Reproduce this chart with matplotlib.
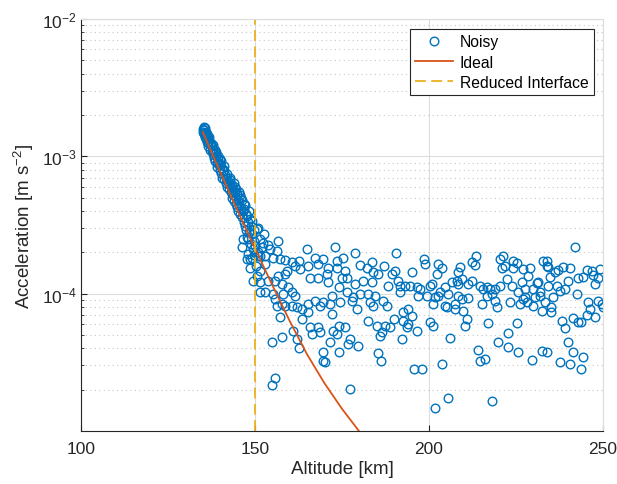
import numpy as np
import matplotlib
matplotlib.use('Agg')
import matplotlib.pyplot as plt
from matplotlib.ticker import LogLocator, NullFormatter, FixedLocator

plt.rcParams['font.family'] = ['Liberation Sans', 'DejaVu Sans']
plt.rcParams['mathtext.fontset'] = 'custom'
plt.rcParams['mathtext.rm'] = 'Liberation Sans'
plt.rcParams['mathtext.it'] = 'Liberation Sans'
plt.rcParams['mathtext.default'] = 'regular'

# ideal drag acceleration curve (altitude km, accel in 1e-5 m/s^2)
ideal_alt = [135, 137.5, 140, 142.5, 145, 147.5, 150, 155, 160, 165, 170, 175, 180, 185, 190]
ideal_acc = [150, 107, 76.9, 55.5, 40.2, 29.2, 21.4, 11.5, 6.3, 3.6, 2.22, 1.45, 0.99, 0.71, 0.52]

noisy_pts = [
    # dense part below the interface
    (135.0, 158), (135.1, 150), (135.2, 163), (135.3, 145), (135.4, 155), (135.5, 138),
    (135.6, 148), (135.7, 160), (135.8, 142), (135.9, 133), (136.0, 150), (136.1, 128),
    (136.2, 140), (136.3, 145), (136.4, 135), (136.5, 125), (136.6, 118), (136.8, 130),
    (136.9, 138), (137.0, 122), (137.1, 112), (137.3, 126), (137.5, 110), (137.6, 118),
    (137.8, 104), (137.8, 120), (138.0, 112), (138.2, 98), (138.4, 106), (138.5, 93),
    (138.6, 112), (138.7, 100), (138.9, 108), (139.0, 90), (139.2, 84), (139.4, 95),
    (139.5, 101), (139.6, 86), (139.8, 79), (139.9, 95), (140.0, 88), (140.2, 75),
    (140.3, 92), (140.4, 82), (140.6, 70), (140.8, 78), (141.0, 85), (141.1, 80),
    (141.2, 68), (141.4, 73), (141.6, 64), (141.8, 70), (141.9, 74), (142.0, 60),
    (142.2, 66), (142.4, 58), (142.6, 63), (142.7, 67), (142.8, 70), (143.0, 55),
    (143.2, 60), (143.4, 50), (143.5, 62), (143.6, 57), (143.8, 52), (143.9, 64),
    (144.0, 47), (144.2, 55), (144.3, 60), (144.4, 45), (144.5, 58), (144.6, 50),
    (144.8, 43), (144.9, 53), (145.0, 48), (145.2, 40), (145.3, 55), (145.4, 44),
    (145.6, 52), (145.8, 38), (145.9, 50), (146.0, 42), (146.2, 22), (146.3, 36),
    (146.4, 48), (146.5, 40), (146.6, 25), (146.7, 33), (146.8, 41), (146.9, 45),
    (147.1, 31), (147.2, 44), (147.3, 38), (147.5, 29), (147.6, 18), (147.7, 37),
    (147.8, 26), (148.0, 33), (148.1, 24.9), (148.1, 19.4), (148.2, 40), (148.3, 28),
    (148.5, 35), (148.6, 15.5), (148.6, 17.8), (148.8, 23), (148.9, 31), (149.0, 27),
    (149.1, 18.3), (149.2, 34), (149.3, 21), (149.5, 12.4), (149.6, 24), (149.7, 29),
    (149.8, 19),
    (150.5, 29.5), (151.5, 25), (152.4, 23.5), (151.4, 18.8), (150.5, 13.5), (150.8, 20),
    (150.2, 16),
    # 150 - 165 km
    (151.0, 29.9), (152.7, 27.4), (156.7, 24.0), (153.8, 22.6), (150.0, 22.3), (151.9, 21.7),
    (154.3, 21.1), (156.2, 20.3), (151.0, 18.8), (152.9, 18.8), (155.3, 18.3), (157.2, 17.8),
    (158.6, 17.5), (160.5, 17.1), (162.5, 17.3), (152.9, 16.4), (151.4, 14.7), (159.1, 14.7),
    (161.5, 15.9), (162.9, 15.1), (156.7, 13.5), (158.6, 13.9), (151.4, 12.1), (153.8, 12.4),
    (155.8, 12.4), (157.7, 11.7), (159.6, 11.1), (161.5, 9.64), (160.5, 10.2), (152.9, 10.2),
    (151.4, 10.2), (155.3, 9.92), (158.1, 9.92), (155.8, 9.12), (157.7, 8.39), (156.2, 8.15),
    (158.6, 8.15), (160.5, 8.15), (162.0, 7.93), (163.4, 7.71), (157.2, 6.71), (163.4, 6.53),
    (161.0, 5.37), (162.0, 4.67), (154.8, 4.42), (157.7, 4.80), (162.5, 4.02), (155.8, 2.43),
    (155.0, 2.17),
    # 165 - 183 km
    (164.9, 21.1), (173.0, 21.9), (178.7, 19.7), (167.2, 18.3), (169.6, 17.8), (173.5, 17.3),
    (175.4, 18.3), (180.2, 16.2), (165.3, 15.9), (168.2, 16.4), (171.1, 15.5), (173.5, 15.5),
    (175.9, 14.7), (182.1, 15.5), (165.8, 13.1), (168.2, 13.1), (170.6, 13.9), (171.1, 12.1),
    (174.9, 13.1), (176.3, 13.1), (178.7, 11.7), (181.1, 12.4), (174.0, 11.1), (176.3, 10.2),
    (172.0, 9.64), (178.3, 9.38), (180.2, 9.92), (182.6, 9.92), (167.2, 8.87), (169.6, 8.63),
    (165.3, 8.39), (168.7, 8.15), (171.6, 8.39), (174.4, 8.63), (177.8, 8.87), (179.2, 7.71),
    (165.3, 7.30), (172.0, 7.10), (182.6, 6.34), (165.8, 5.68), (168.2, 5.68), (174.0, 5.83),
    (175.9, 5.68), (166.3, 5.08), (168.7, 5.22), (172.5, 5.37), (173.5, 5.08), (177.3, 4.67),
    (171.6, 4.42), (176.8, 4.29), (179.7, 4.17), (169.6, 3.73), (174.0, 3.73), (169.6, 3.25),
    (170.1, 3.16), (177.3, 2.02),
    # 183 - 200 km
    (190.4, 19.9), (198.7, 17.8), (198.9, 16.4), (183.5, 17.1), (187.2, 15.9), (184.0, 14.3),
    (185.4, 13.9), (190.2, 14.7), (189.3, 13.9), (195.0, 14.3), (183.5, 12.1), (188.3, 11.4),
    (191.2, 12.4), (191.7, 11.4), (193.1, 11.4), (194.5, 11.4), (196.5, 11.1), (197.4, 10.8),
    (191.7, 10.2), (184.5, 9.64), (196.9, 9.64), (199.3, 9.64), (183.0, 8.63), (186.9, 8.87),
    (187.8, 8.15), (184.0, 8.15), (194.1, 7.71), (192.6, 7.30), (195.0, 6.90), (189.8, 6.53),
    (192.6, 6.34), (185.0, 5.83), (187.4, 5.83), (188.8, 5.68), (194.1, 6.00), (193.6, 5.68),
    (186.4, 5.22), (185.9, 4.93), (196.5, 5.37), (192.1, 4.67), (185.4, 3.67), (186.1, 3.25),
    (195.8, 2.83), (198.1, 2.83),
    # 200 - 217 km
    (213.5, 18.8), (212.3, 17.1), (213.2, 16.2), (202.7, 16.4), (203.6, 15.5), (208.9, 15.7),
    (202.2, 13.9), (208.4, 14.3), (200.3, 11.4), (200.8, 11.7), (206.5, 12.1), (208.0, 12.4),
    (209.4, 12.8), (212.3, 12.4), (208.4, 11.7), (211.3, 11.7), (214.7, 11.4), (215.6, 10.8),
    (216.6, 11.1), (204.6, 11.1), (203.2, 10.2), (202.7, 9.64), (205.6, 9.92), (201.7, 9.38),
    (204.6, 8.15), (207.5, 8.39), (208.4, 9.64), (209.4, 9.12), (211.3, 9.27), (216.6, 9.64),
    (201.2, 8.39), (205.1, 7.93), (207.5, 7.71), (209.9, 7.42), (215.1, 8.39), (210.8, 6.53),
    (200.3, 6.17), (201.2, 5.83), (210.3, 5.83), (217.0, 6.07), (206.0, 4.75), (214.0, 3.88),
    (214.7, 3.25), (216.1, 3.34), (203.6, 3.07), (205.6, 1.74), (201.7, 1.47),
    # 217 - 234 km
    (221.4, 18.8), (220.4, 17.8), (224.2, 17.3), (225.2, 16.6), (220.9, 15.5), (221.8, 15.9),
    (224.2, 15.5), (227.1, 15.1), (229.0, 15.5), (232.9, 17.3), (233.8, 15.9), (222.3, 12.8),
    (223.8, 11.4), (226.6, 12.1), (228.5, 13.5), (231.0, 11.9), (231.4, 12.1), (234.3, 11.4),
    (217.5, 10.8), (219.0, 10.8), (220.4, 11.4), (225.7, 10.2), (227.6, 10.8), (230.0, 10.8),
    (231.9, 10.2), (218.0, 9.92), (227.6, 9.47), (227.1, 9.12), (230.5, 9.38), (231.9, 9.64),
    (223.3, 8.63), (219.0, 8.87), (219.4, 7.93), (226.1, 8.39), (228.1, 8.63), (230.0, 8.15),
    (232.4, 7.50), (233.3, 8.63), (225.2, 6.07), (222.8, 5.13), (219.9, 4.42), (222.8, 4.10),
    (225.7, 3.73), (229.5, 3.28), (232.4, 3.84), (233.8, 3.73), (218.0, 1.66),
    # 234 - 250 km
    (241.9, 21.9), (233.8, 17.3), (234.3, 15.7), (238.6, 15.7), (240.5, 15.5), (237.2, 14.8),
    (236.2, 14.3), (234.8, 13.2), (245.3, 14.8), (246.7, 14.5), (249.1, 15.1), (242.9, 13.1),
    (244.3, 13.2), (247.2, 13.6), (248.7, 12.9), (247.7, 11.7), (236.7, 11.4), (237.6, 10.5),
    (239.1, 10.8), (240.0, 12.4), (235.7, 9.38), (242.4, 10.0), (245.8, 8.63), (248.7, 8.87),
    (249.6, 8.39), (249.9, 7.93), (235.2, 8.02), (235.2, 7.30), (246.3, 7.71), (245.3, 7.02),
    (247.7, 6.71), (241.5, 6.65), (242.9, 6.17), (243.7, 6.17), (238.1, 6.27), (239.1, 5.61),
    (240.0, 4.42), (241.5, 3.73), (237.6, 3.16), (240.5, 3.10), (244.3, 3.47), (243.7, 2.83),
]

interface_alt = 150

noisy = np.array(noisy_pts)
noisy_alt = noisy[:, 0]
noisy_acc = noisy[:, 1] * 1e-5
ideal_acc_si = np.array(ideal_acc) * 1e-5

blue = '#0072BD'
orange = '#D95319'
yellow = '#EDB120'
dark = '#262626'

fig = plt.figure(figsize=(6.17, 4.85), dpi=100)
ax = fig.add_axes([0.1313, 0.1093, 0.846, 0.8495])

ax.plot(noisy_alt, noisy_acc, 'o', mfc='none', mec=blue, ms=6.2, mew=1.0, label='Noisy')
ax.plot(ideal_alt, ideal_acc_si, '-', color=orange, lw=1.3, label='Ideal')
ax.axvline(interface_alt, color=yellow, lw=1.3, ls=(0, (6, 3)), label='Reduced Interface')

ax.set_yscale('log')
ax.set_xlim(100, 250)
ax.set_ylim(1e-5, 1e-2)
ax.set_xticks([100, 150, 200, 250])
ax.yaxis.set_major_locator(FixedLocator([1e-4, 1e-3, 1e-2]))
ax.yaxis.set_minor_locator(LogLocator(base=10, subs=np.arange(2, 10)))
ax.yaxis.set_minor_formatter(NullFormatter())
ax.set_yticklabels([r'$10^{-4}$', r'$10^{-3}$', r'$10^{-2}$'])

ax.grid(True, which='major', color='#dcdcdc', lw=0.8, ls='-')
ax.grid(True, which='minor', axis='y', color='#c8c8c8', lw=0.8, ls=(0, (1, 3)))
ax.set_axisbelow(True)

for side in ['left', 'bottom']:
    ax.spines[side].set_color(dark)
    ax.spines[side].set_linewidth(0.8)
for side in ['top', 'right']:
    ax.spines[side].set_color('#dcdcdc')
    ax.spines[side].set_linewidth(0.8)

ax.tick_params(which='both', direction='in', colors=dark, labelsize=12.5, top=False, right=False)
ax.tick_params(which='major', length=4)
ax.tick_params(which='minor', length=2.5)
ax.tick_params(axis='x', pad=7)
ax.tick_params(axis='y', pad=3)

ax.set_xlabel('Altitude [km]', fontsize=13.5, color=dark, labelpad=3)
ax.set_ylabel(r'Acceleration [m s$^{-2}$]', fontsize=13.5, color=dark, labelpad=4)

leg = ax.legend(loc='upper right', bbox_to_anchor=(0.983, 0.976), borderaxespad=0,
                fontsize=11.3, fancybox=False, framealpha=1, edgecolor=dark,
                handlelength=2.4, handletextpad=0.45, labelspacing=0.33, borderpad=0.35)
leg.get_frame().set_linewidth(0.8)

fig.savefig('out.png', dpi=100)
